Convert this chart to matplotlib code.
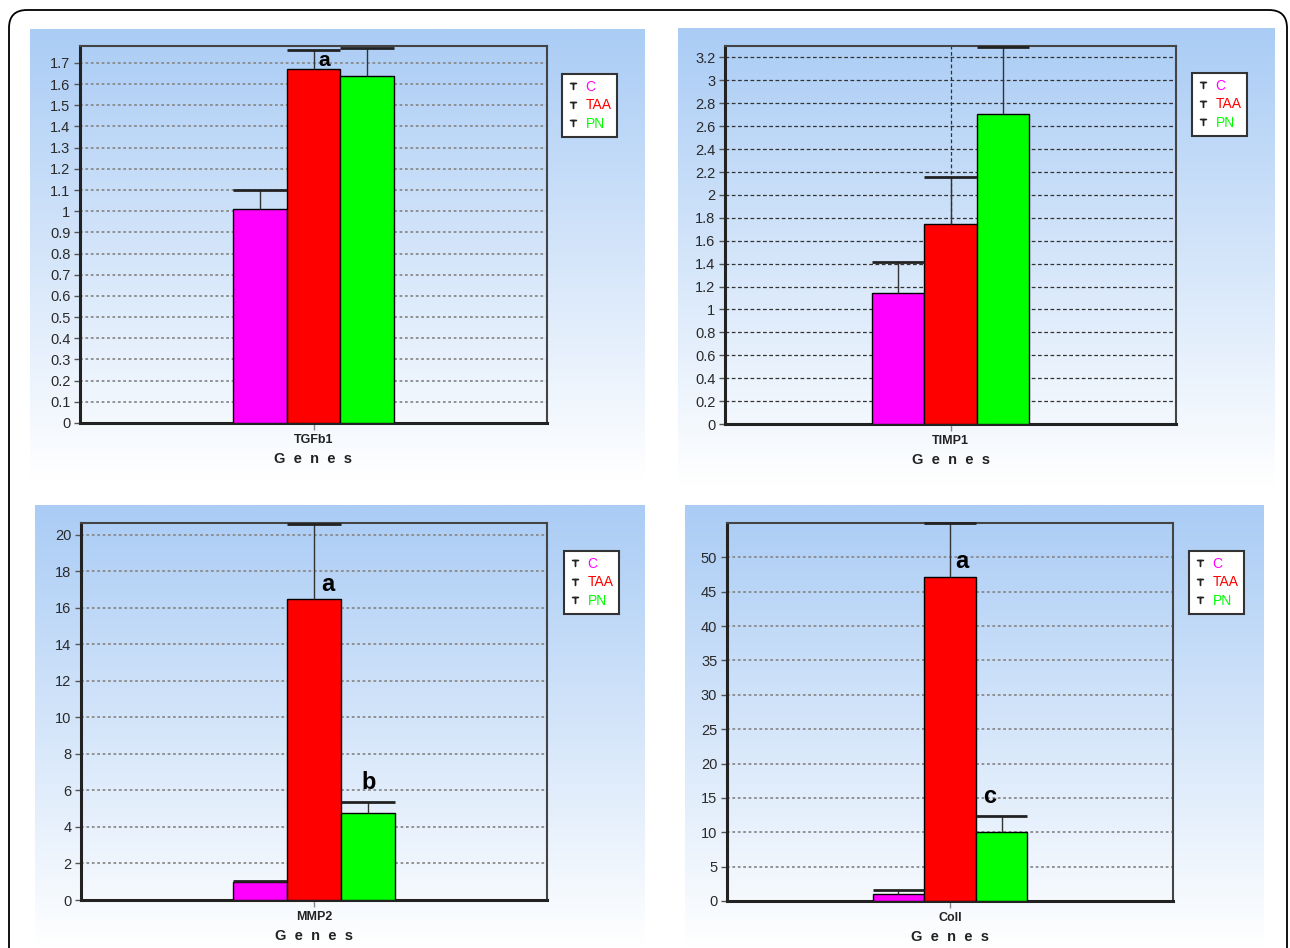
import numpy as np
import matplotlib
matplotlib.use('Agg')
from matplotlib import pyplot as plt
from matplotlib.lines import Line2D
from matplotlib.patches import FancyBboxPatch
from matplotlib.ticker import StrMethodFormatter

plt.rcParams['font.family'] = ['Liberation Sans', 'DejaVu Sans']

# data
genes = ['TGFb1', 'TIMP1', 'MMP2', 'Coll']
groups = ['C', 'TAA', 'PN']
colors = ['#ff00ff', '#ff0000', '#00ff00']

tgfb1_mean = [1.01, 1.67, 1.64]
tgfb1_err = [0.09, 0.09, 0.13]
timp1_mean = [1.14, 1.75, 2.71]
timp1_err = [0.27, 0.41, 0.58]
mmp2_mean = [1.0, 16.47, 4.75]
mmp2_err = [0.04, 4.13, 0.63]
coll_mean = [1.05, 47.1, 10.0]
coll_err = [0.5, 7.9, 2.33]

means = [tgfb1_mean, timp1_mean, mmp2_mean, coll_mean]
errs = [tgfb1_err, timp1_err, mmp2_err, coll_err]

y_top = [1.78, 3.3, 20.65, 55]
y_tick_max = [1.7, 3.2, 20, 50]
y_step = [0.1, 0.2, 2, 5]

# significance letters: (panel, x offset from centre, y, letter)
letters = [(0, 0.19, 1.71, 'a'), (2, 0.26, 17.26, 'a'), (2, 1.01, 6.41, 'b'),
           (3, 0.23, 49.4, 'a'), (3, 0.78, 15.2, 'c')]

# layout in pixels
W, H = 1290, 948
bg_boxes = [(30, 29, 645, 480), (678, 28, 1275, 487), (35, 505, 645, 948), (685, 505, 1264, 948)]
ax_boxes = [(80, 46, 547, 423), (725, 46, 1176, 424), (81, 523, 547, 900), (727, 523, 1173, 901)]
leg_pos = [(562, 74), (1192, 73), (564, 551), (1189, 551)]

fig = plt.figure(figsize=(W / 100, H / 100), dpi=100)

# base layer in pixel coordinates: frame and gradient panels
base = fig.add_axes([0, 0, 1, 1])
base.set_xlim(0, W)
base.set_ylim(H, 0)
base.axis('off')
base.add_patch(FancyBboxPatch((9, 10), W - 12, H + 20, boxstyle='round,pad=0,rounding_size=18',
                              facecolor='white', edgecolor='black', linewidth=1.3))
top_col = np.array([170, 204, 245]) / 255
grad = np.linspace(0, 1, 256)[:, None, None]
grad_img = top_col * (1 - grad) + np.ones(3) * grad
for (x0, y0, x1, y1) in bg_boxes:
    base.imshow(grad_img, extent=(x0, x1, y1, y0), aspect='auto', interpolation='bilinear', zorder=1)
base.set_xlim(0, W)
base.set_ylim(H, 0)

for i in range(4):
    x0, y0, x1, y1 = ax_boxes[i]
    ax = fig.add_axes([x0 / W, 1 - y1 / H, (x1 - x0) / W, (y1 - y0) / H])
    ax.set_facecolor('none')
    m = np.array(means[i])
    e = np.array(errs[i])
    xpos = np.arange(3) - 1
    ax.bar(xpos, m, width=1, color=colors, edgecolor='black', linewidth=1, zorder=3)
    ax.vlines(xpos, m, m + e, color='#333333', linewidth=1, zorder=4)
    ax.hlines(m + e, xpos - 0.5, xpos + 0.5, color='#222222', linewidth=2, zorder=4, clip_on=False)

    ax.set_xlim(-4.33, 4.33)
    ax.set_ylim(0, y_top[i])
    ax.set_yticks(np.arange(0, y_tick_max[i] + y_step[i] / 2, y_step[i]))
    ax.yaxis.set_major_formatter(StrMethodFormatter('{x:g}'))
    ax.set_xticks([0])
    ax.set_xticklabels([genes[i]], fontsize=9, fontweight='bold', color='#222222')
    ax.tick_params(axis='y', direction='out', length=4, width=1, color='#555555',
                   labelsize=10.5, labelcolor='#2a2a2a', pad=3)
    ax.tick_params(axis='x', direction='out', length=5, width=1, color='#888888', pad=3)
    ax.set_axisbelow(True)
    if i == 1:
        ax.yaxis.grid(True, color='#333333', linestyle=(0, (3, 2)), linewidth=0.9)
        ax.xaxis.grid(True, color='#333333', linestyle=(0, (3, 2)), linewidth=0.9)
    else:
        ax.yaxis.grid(True, color='#8a8a8a', linestyle=(0, (1.5, 1.5)), linewidth=1.3)
    for s in ['left', 'bottom']:
        ax.spines[s].set_linewidth(2.2)
        ax.spines[s].set_color('#222222')
    for s in ['top', 'right']:
        ax.spines[s].set_linewidth(1.5)
        ax.spines[s].set_color('#444444')
    ax.set_xlabel('G  e  n  e  s', fontsize=10.5, fontweight='bold', color='#222222', labelpad=4)

    handles = [Line2D([], [], marker=r'$\mathsf{T}$', color='#222222', linestyle='none', markersize=5)
               for _ in groups]
    leg = ax.legend(handles, groups, loc='upper left', bbox_to_anchor=leg_pos[i],
                    bbox_transform=base.transData, fontsize=10, labelcolor=colors,
                    handlelength=0.8, handletextpad=0.5, borderpad=0.4, labelspacing=0.35,
                    fancybox=False, framealpha=1, borderaxespad=0)
    leg.get_frame().set_edgecolor('#333333')
    leg.get_frame().set_linewidth(1.5)

    for (p, dx, yy, lab) in letters:
        if p == i:
            fs = 15 if p == 0 else 17
            ax.text(dx, yy, lab, fontsize=fs, fontweight='bold', ha='center', va='center', zorder=5)

fig.savefig('out.png', dpi=100)
